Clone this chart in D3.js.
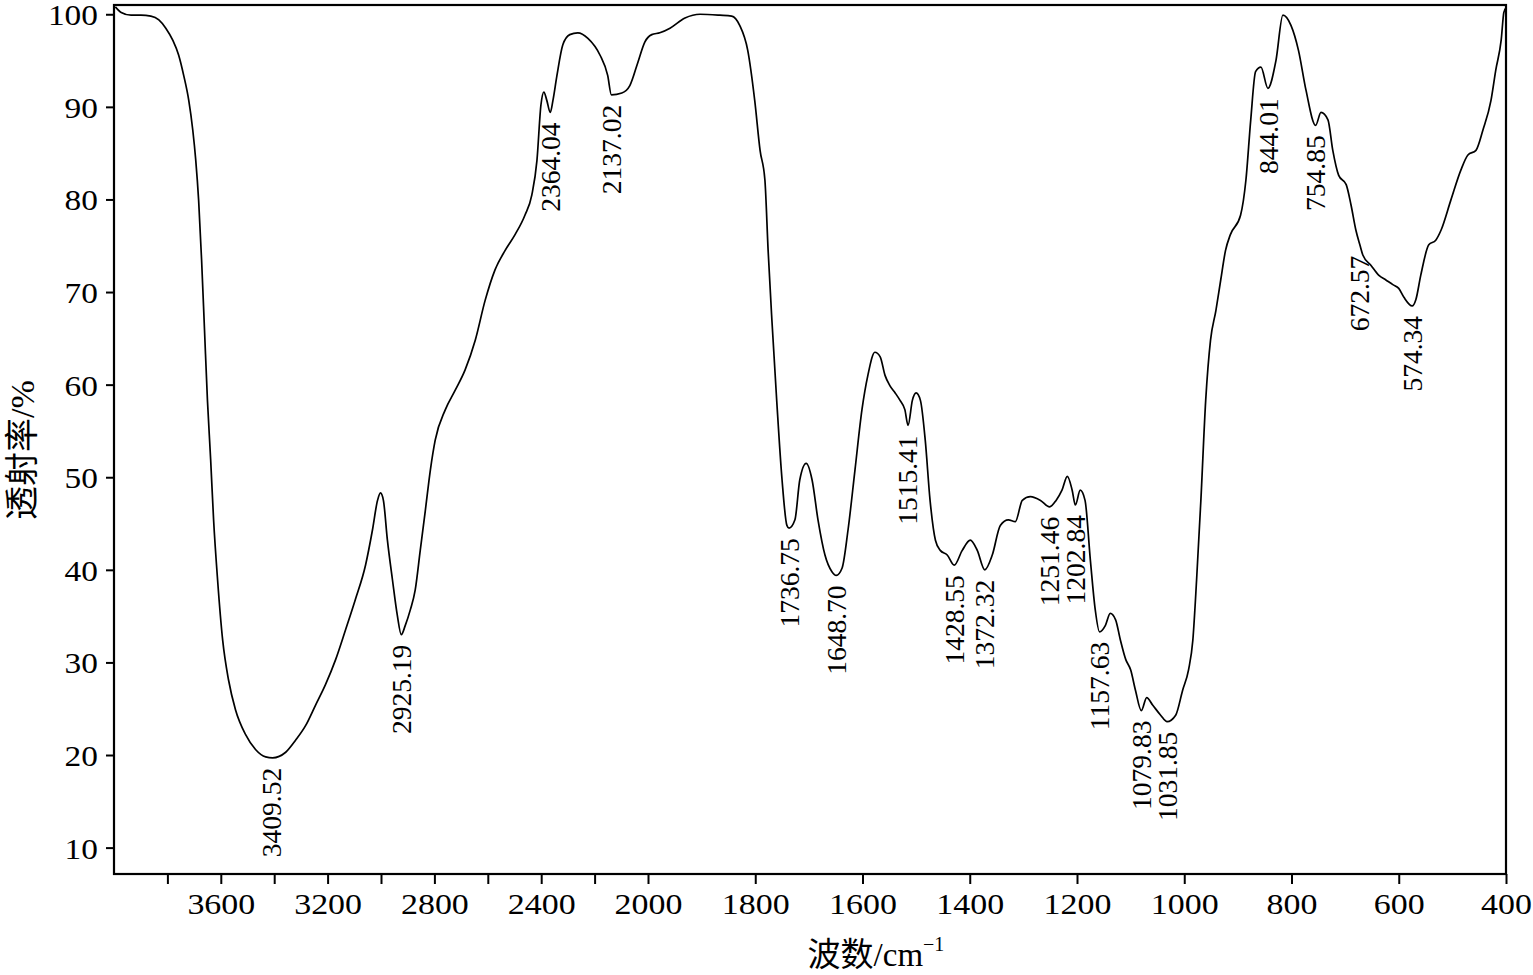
<!DOCTYPE html>
<html>
<head>
<meta charset="utf-8">
<script src="https://cdn.jsdelivr.net/npm/d3@7"></script>
<style>
  body { margin: 0; background: #fff; }
  svg { display: block; }
  text { font-family: "Liberation Serif", "Noto Sans CJK SC", serif; fill: #000; }
</style>
</head>
<body>
<div id="vis"></div>
<script>
// IR spectrum: wavenumber (cm-1) vs transmittance (%)
let wavenumbers = [3995, 3973, 3936, 3899, 3862, 3832, 3806, 3780, 3758, 3739, 3720, 3705, 3694, 3683, 3672, 3661,
  3650, 3638, 3627, 3612, 3593, 3571, 3545, 3507, 3470, 3432, 3406, 3357, 3320, 3282, 3245, 3208, 3170, 3133, 3096,
  3058, 3032, 3013, 3002, 2991, 2976, 2957, 2939, 2924, 2909, 2890, 2872, 2853, 2834, 2815, 2797, 2759, 2722, 2685,
  2647, 2610, 2573, 2535, 2498, 2461, 2435, 2416, 2401, 2390, 2379, 2366, 2356, 2341, 2319, 2293, 2263, 2225, 2180,
  2151, 2137, 2098, 2068, 2038, 2012, 1993, 1978, 1959, 1931, 1903, 1866, 1844, 1829, 1814, 1801, 1791, 1782, 1776,
  1769, 1760, 1750, 1741, 1737, 1726, 1717, 1705, 1694, 1683, 1670, 1657, 1649, 1638, 1627, 1614, 1601, 1590, 1577,
  1567, 1558, 1549, 1539, 1530, 1521, 1515, 1507, 1500, 1492, 1483, 1474, 1464, 1455, 1442, 1429, 1414, 1399, 1386,
  1372, 1358, 1343, 1328, 1315, 1302, 1287, 1268, 1251, 1239, 1228, 1218, 1209, 1203, 1194, 1185, 1175, 1166, 1158,
  1147, 1138, 1128, 1119, 1109, 1100, 1091, 1080, 1070, 1059, 1044, 1032, 1016, 1003, 992, 984, 977, 969, 960, 951,
  941, 932, 923, 914, 895, 885, 876, 867, 857, 844, 829, 816, 801, 787, 773, 755, 745, 732, 723, 712, 698, 689, 680,
  672, 667, 652, 637, 624, 611, 600, 590, 575, 568, 559, 544, 531, 521, 503, 484, 471, 456, 443, 428, 419, 409, 404, 400];

let transmittance = [100.8, 100.2, 99.9, 99.9, 99.8, 99.4, 98.5, 97.2, 95.6, 93.4, 90.7, 87.5, 84.3, 79.9, 73.5, 65.9,
  58.3, 51.9, 45.4, 38.9, 32.4, 28.1, 24.9, 22.2, 20.6, 19.8, 19.7, 20.3, 21.6, 23.2, 25.4, 27.6, 30.3, 33.5, 36.8,
  40.5, 44.3, 47.5, 48.3, 47.5, 43.2, 38.9, 35.1, 33.0, 34.0, 35.7, 37.8, 42.1, 46.4, 50.8, 54.0, 57.3, 59.4, 61.6,
  64.8, 69.1, 72.4, 74.5, 76.2, 78.3, 80.5, 84.2, 90.2, 91.6, 90.7, 89.4, 90.7, 93.4, 96.7, 97.8, 98.0, 97.4, 95.6,
  93.4, 91.3, 91.5, 92.3, 94.8, 97.0, 97.8, 98.0, 98.5, 99.6, 100.0, 99.9, 99.8, 98.8, 96.1, 90.7, 85.3, 82.1, 74.5,
  67.0, 58.3, 49.7, 44.8, 44.5, 45.4, 49.7, 51.5, 49.7, 45.4, 41.6, 39.8, 39.4, 40.2, 44.3, 50.8, 57.3, 61.0, 63.5,
  63.0, 61.0, 59.9, 59.1, 58.3, 57.3, 55.6, 58.3, 59.1, 58.3, 54.0, 47.5, 43.2, 42.1, 41.6, 40.5, 42.1, 43.2, 42.1,
  40.0, 41.6, 44.8, 45.4, 45.2, 47.5, 47.9, 47.5, 46.8, 47.5, 48.6, 50.1, 48.6, 47.0, 48.6, 47.5, 41.0, 35.7, 33.3,
  34.0, 35.3, 34.6, 32.4, 30.3, 29.2, 27.0, 24.8, 26.2, 25.4, 24.3, 23.6, 24.3, 27.0, 29.2, 32.4, 38.9, 47.5, 58.3, 64.8,
  68.0, 71.3, 74.5, 76.2, 78.3, 82.1, 88.6, 93.8, 94.3, 92.0, 95.0, 99.9, 98.8, 96.1, 91.8, 88.0, 89.4, 88.6, 85.3, 82.6, 81.6, 79.4, 76.7,
  75.0, 74.0, 72.9, 71.8, 71.3, 70.8, 70.4, 69.4, 68.5, 69.2, 71.8, 75.1, 75.6, 76.7, 79.9, 83.2, 84.8, 85.3, 87.5, 90.7, 94.0, 97.2, 100.2, 100.7];

// annotated band positions
let peakWavenumbers = [3409.52, 2925.19, 2364.04, 2137.02, 1736.75, 1648.70, 1515.41, 1428.55, 1372.32,
  1251.46, 1202.84, 1157.63, 1079.83, 1031.85, 844.01, 754.85, 672.57, 574.34];
let peakValues = [19.7, 33.0, 89.4, 91.3, 44.5, 39.4, 55.6, 40.5, 40.0, 46.8, 47.0, 33.3, 24.8, 23.6, 92.0, 88.0, 75.0, 68.5];

let xTickValues = [3800, 3600, 3400, 3200, 3000, 2800, 2600, 2400, 2200, 2000, 1800, 1600, 1400, 1200, 1000, 800, 600, 400];
let xTickLabels = ['3600', '3200', '2800', '2400', '2000', '1800', '1600', '1400', '1200', '1000', '800', '600', '400'];
let yTickValues = [10, 20, 30, 40, 50, 60, 70, 80, 90, 100];

let width = 1533, height = 975;
let margin = { left: 114, right: 1506, top: 5, bottom: 874 };

let svg = d3.select('#vis')
  .append('svg')
  .attr('width', width)
  .attr('height', height);

// split scale: 4000-2000 compressed, 2000-400 doubled
let x = d3.scaleLinear()
  .domain([4000, 2000, 400])
  .range([margin.left, 648, margin.right]);

let y = d3.scaleLinear()
  .domain([7.15, 101])
  .range([margin.bottom, margin.top]);

let xAxis = d3.axisBottom(x)
  .tickValues(xTickValues)
  .tickSize(10)
  .tickPadding(10)
  .tickFormat(d => xTickLabels.includes(String(d)) ? String(d) : '');

let gx = svg.append('g')
  .attr('transform', `translate(0,${margin.bottom})`)
  .call(xAxis);

gx.select('.domain').remove();
gx.selectAll('line').attr('stroke', '#000').attr('stroke-width', 2);
gx.selectAll('text')
  .attr('font-size', 29)
  .attr('dy', '0.68em')
  .attr('transform', 'scale(1.17,1)');

let yAxis = d3.axisLeft(y)
  .tickValues(yTickValues)
  .tickSize(8)
  .tickPadding(8);

let gy = svg.append('g')
  .attr('transform', `translate(${margin.left},0)`)
  .call(yAxis);

gy.select('.domain').remove();
gy.selectAll('line').attr('stroke', '#000').attr('stroke-width', 2);
gy.selectAll('text')
  .attr('font-size', 29)
  .attr('x', -14)
  .attr('dy', '0.36em')
  .attr('transform', 'scale(1.15,1)');

// frame
svg.append('rect')
  .attr('x', margin.left)
  .attr('y', margin.top)
  .attr('width', margin.right - margin.left)
  .attr('height', margin.bottom - margin.top)
  .attr('fill', 'none')
  .attr('stroke', '#000')
  .attr('stroke-width', 2.2);

// spectrum
let points = wavenumbers.map((w, i) => [w, transmittance[i]]);

let line = d3.line()
  .x(d => x(d[0]))
  .y(d => y(d[1]))
  .curve(d3.curveMonotoneX);

svg.append('path')
  .datum(points)
  .attr('d', line)
  .attr('fill', 'none')
  .attr('stroke', '#000')
  .attr('stroke-width', 1.7)
  .attr('stroke-linejoin', 'round');

// peak labels, rotated, just under each band
svg.append('g')
  .selectAll('text')
  .data(peakWavenumbers)
  .join('text')
  .attr('transform', (d, i) => `translate(${x(d)},${y(peakValues[i]) + 10}) rotate(-90)`)
  .attr('text-anchor', 'end')
  .attr('dy', '0.35em')
  .attr('font-size', 27.5)
  .text(d => d.toFixed(2));

// axis titles
svg.append('text')
  .attr('x', 876)
  .attr('y', 966)
  .attr('text-anchor', 'middle')
  .attr('font-size', 33)
  .text('波数/cm')
  .append('tspan')
  .attr('font-size', 20)
  .attr('dy', -15)
  .text('−1');

svg.append('text')
  .attr('transform', 'translate(34,450) rotate(-90)')
  .attr('text-anchor', 'middle')
  .attr('font-size', 34)
  .text('透射率/%');
</script>
</body>
</html>
